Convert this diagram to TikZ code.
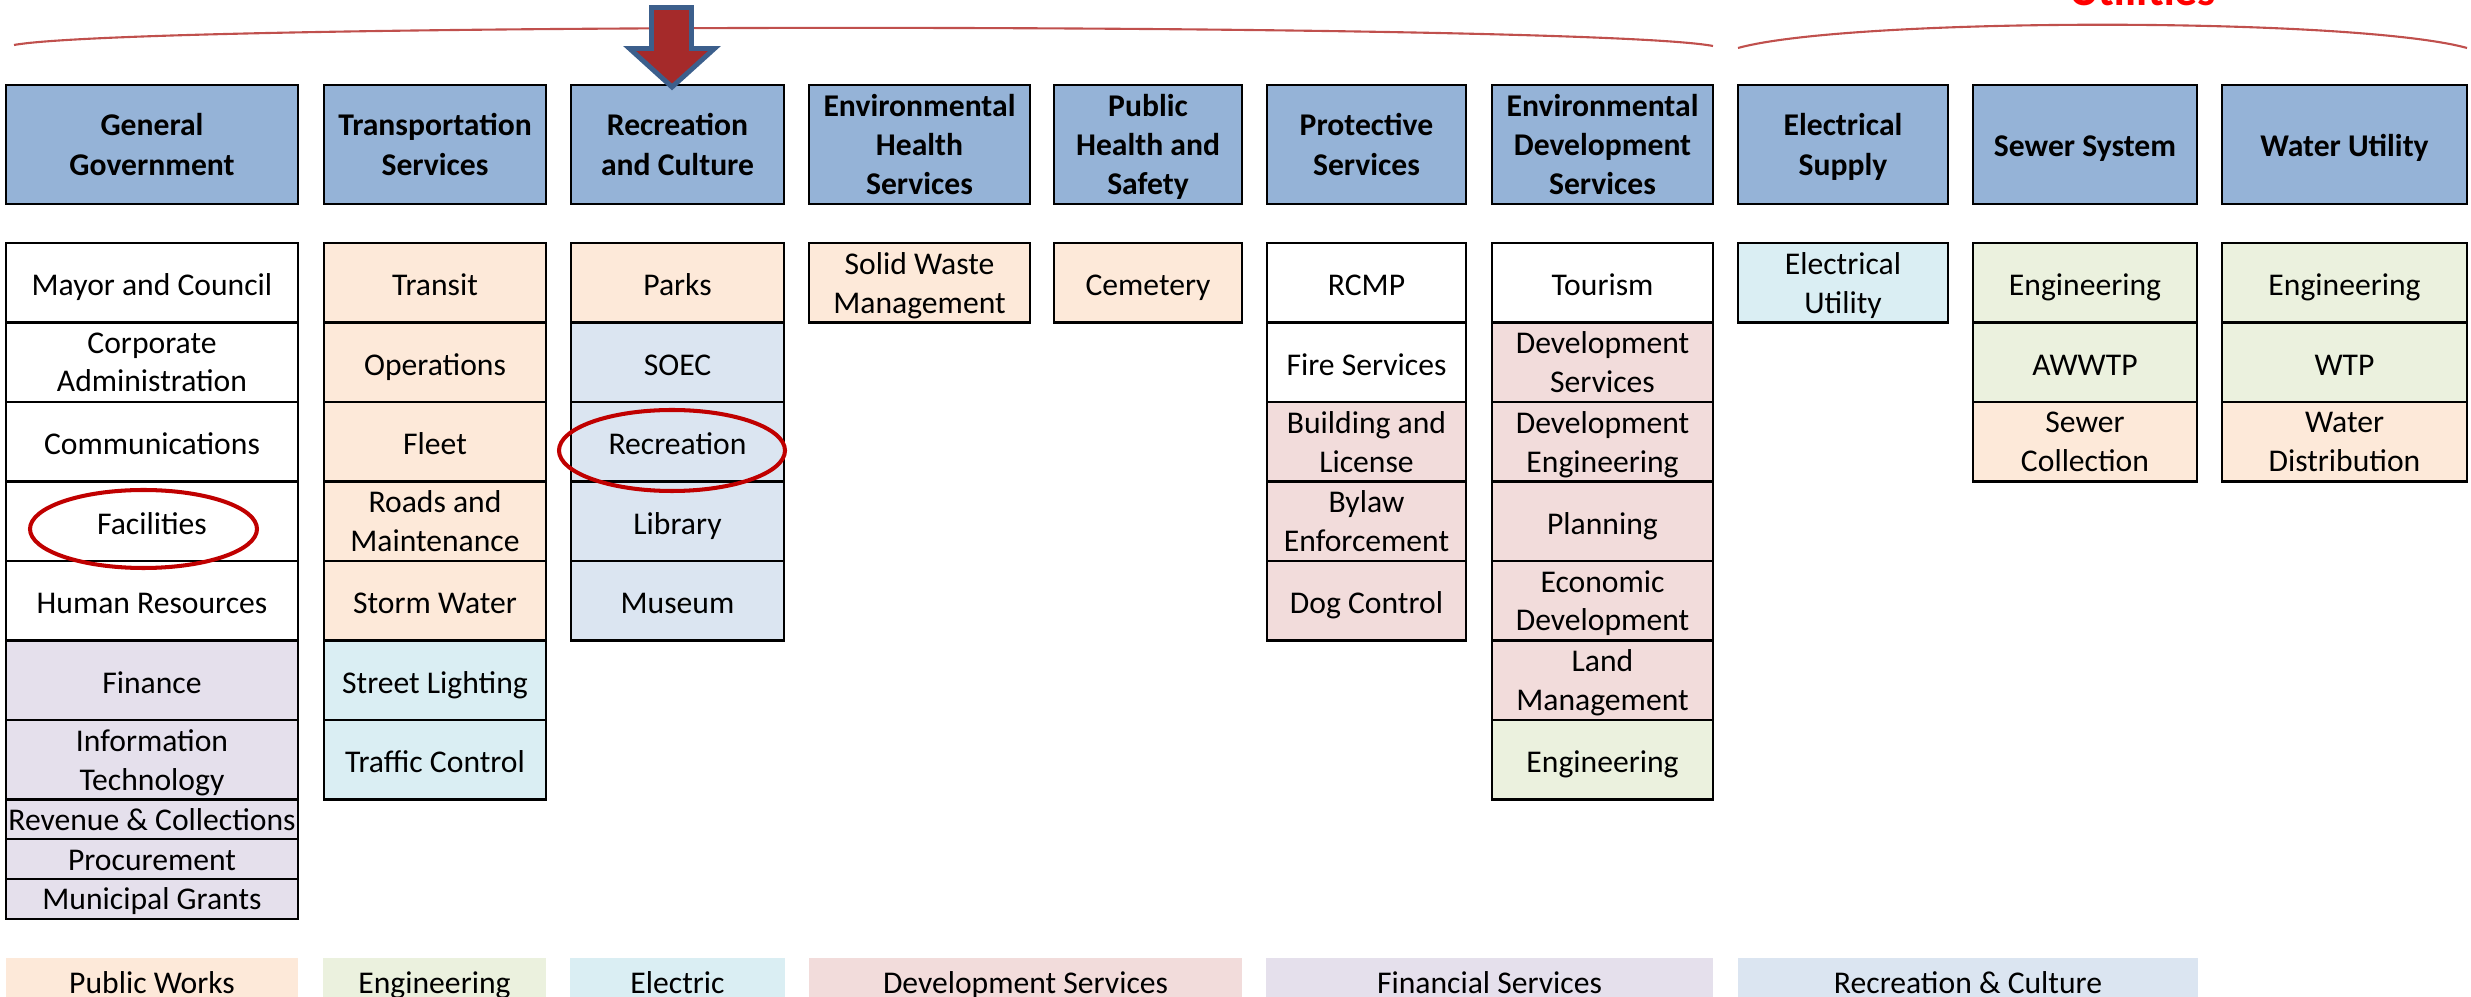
\documentclass[tikz,border=0pt]{standalone}
\usepackage{fontspec}
\setmainfont{Carlito}
\usetikzlibrary{positioning}
\definecolor{headblue}{HTML}{95B3D7}
\definecolor{pwcol}{HTML}{FDE9D9}
\definecolor{engcol}{HTML}{EBF1DE}
\definecolor{elcol}{HTML}{DAEEF3}
\definecolor{devcol}{HTML}{F2DCDB}
\definecolor{fincol}{HTML}{E5E0EC}
\definecolor{reccol}{HTML}{DBE5F1}
\definecolor{ringred}{HTML}{C00000}
\definecolor{bracered}{HTML}{C0504D}
\definecolor{arrowred}{HTML}{A52A2A}
\definecolor{arrowblue}{HTML}{3C5F8C}
\newcommand{\cellstrut}{\rule[-.8mm]{0pt}{4.2mm}}
\newcommand{\headstrut}{\rule[-.8mm]{0pt}{4.1mm}}
\newcommand{\thinstrut}{\rule[-.8mm]{0pt}{3.8mm}}
\tikzstyle{every node}=[font=\fontsize{9}{11}\selectfont]
\tikzstyle{box}=[draw,rectangle,inner xsep=0pt,inner ysep=0pt,align=center]
\tikzstyle{head}=[box,fill=headblue,line width=.7pt,minimum height=1.19cm,font=\bfseries\fontsize{9}{11.2}\selectfont,execute at begin node=\headstrut]
\tikzstyle{unit}=[box,fill=white,line width=.6pt,minimum height=.795cm,execute at begin node=\cellstrut]
\tikzstyle{half}=[box,fill=white,line width=.6pt,minimum height=.3975cm,execute at begin node=\thinstrut]
\tikzstyle{stack}=[text depth=0pt]
\tikzstyle{key}=[rectangle,inner sep=0pt,minimum height=.48cm,execute at begin node=\thinstrut]
\tikzstyle{pw}=[fill=pwcol]
\tikzstyle{eng}=[fill=engcol]
\tikzstyle{elec}=[fill=elcol]
\tikzstyle{dev}=[fill=devcol]
\tikzstyle{fin}=[fill=fincol]
\tikzstyle{rec}=[fill=reccol]
\tikzstyle{curly}=[draw=bracered,line width=.6pt]
\tikzstyle{ring}=[draw=ringred,line width=1.15pt]
\tikzstyle{bigarrow}=[draw=arrowblue,fill=arrowred,line width=1.4pt]

\begin{document}
\begin{tikzpicture}[node distance=.795cm]
    \useasboundingbox (0,0) rectangle (24.71,-9.97);
    \draw[curly] (.14,-.45) .. controls (1.4,-.22) and (15.87,-.22) .. (17.13,-.46);
    \draw[curly] (17.38,-.48) .. controls (18.5,-.17) and (23.55,-.17) .. (24.67,-.48);
    \node[font=\bfseries\fontsize{13}{15}\selectfont, text=red, anchor=base] (util) at (21.425,-.055) {Utilities};

    \begin{scope}[nodes={minimum width=2.92cm}]
    \node[head, stack] (gg) at (1.52,-1.445) {General\\Government};
    \node[unit, below of=gg, node distance=1.3825cm] (mayor) {Mayor and Council};
    \node[unit, stack, below of=mayor] (corp) {Corporate\\Administration};
    \node[unit, below of=corp] (comm) {Communications};
    \node[unit, below of=comm] (fac) {Facilities};
    \node[unit, below of=fac] (hr) {Human Resources};
    \node[unit, fin, below of=hr] (finance) {Finance};
    \node[unit, stack, fin, below of=finance] (it) {Information\\Technology};
    \node[half, fin, below of=it, node distance=.596cm] (rev) {Revenue \& Collections};
    \node[half, fin, below of=rev, node distance=.3975cm] (proc) {Procurement};
    \node[half, fin, below of=proc, node distance=.3975cm] (grants) {Municipal Grants};
    \end{scope}

    \begin{scope}[nodes={minimum width=2.22cm}]
    \node[head, stack] (ts) at (4.35,-1.445) {Transportation\\Services};
    \node[unit, pw, below of=ts, node distance=1.3825cm] (transit) {Transit};
    \node[unit, pw, below of=transit] (ops) {Operations};
    \node[unit, pw, below of=ops] (fleet) {Fleet};
    \node[unit, stack, pw, below of=fleet] (roads) {Roads and\\Maintenance};
    \node[unit, pw, below of=roads] (storm) {Storm Water};
    \node[unit, elec, below of=storm] (light) {Street Lighting};
    \node[unit, elec, below of=light] (traffic) {Traffic Control};
    \end{scope}

    \begin{scope}[nodes={minimum width=2.13cm}]
    \node[head, stack] (rc) at (6.775,-1.445) {Recreation\\and Culture};
    \node[unit, pw, below of=rc, node distance=1.3825cm] (parks) {Parks};
    \node[unit, rec, below of=parks] (soec) {SOEC};
    \node[unit, rec, below of=soec] (recr) {Recreation};
    \node[unit, rec, below of=recr] (lib) {Library};
    \node[unit, rec, below of=lib] (museum) {Museum};
    \end{scope}

    \begin{scope}[nodes={minimum width=2.21cm}]
    \node[head, stack] (ehs) at (9.195,-1.445) {Environmental\\Health\\Services};
    \node[unit, stack, pw, below of=ehs, node distance=1.3825cm] (waste) {Solid Waste\\Management};
    \end{scope}

    \begin{scope}[nodes={minimum width=1.88cm}]
    \node[head, stack] (phs) at (11.48,-1.445) {Public\\Health and\\Safety};
    \node[unit, pw, below of=phs, node distance=1.3825cm] (cem) {Cemetery};
    \end{scope}

    \begin{scope}[nodes={minimum width=1.99cm}]
    \node[head, stack] (ps) at (13.665,-1.445) {Protective\\Services};
    \node[unit, below of=ps, node distance=1.3825cm] (rcmp) {RCMP};
    \node[unit, below of=rcmp] (fire) {Fire Services};
    \node[unit, stack, dev, below of=fire] (bld) {Building and\\License};
    \node[unit, stack, dev, below of=bld] (bylaw) {Bylaw\\Enforcement};
    \node[unit, dev, below of=bylaw] (dog) {Dog Control};
    \end{scope}

    \begin{scope}[nodes={minimum width=2.21cm}]
    \node[head, stack] (eds) at (16.025,-1.445) {Environmental\\Development\\Services};
    \node[unit, below of=eds, node distance=1.3825cm] (tour) {Tourism};
    \node[unit, stack, dev, below of=tour] (devs) {Development\\Services};
    \node[unit, stack, dev, below of=devs] (deveng) {Development\\Engineering};
    \node[unit, dev, below of=deveng] (plan) {Planning};
    \node[unit, stack, dev, below of=plan] (econ) {Economic\\Development};
    \node[unit, stack, dev, below of=econ] (land) {Land\\Management};
    \node[unit, eng, below of=land] (engr) {Engineering};
    \end{scope}

    \begin{scope}[nodes={minimum width=2.10cm}]
    \node[head, stack] (es) at (18.43,-1.445) {Electrical\\Supply};
    \node[unit, stack, elec, below of=es, node distance=1.3825cm] (elut) {Electrical\\Utility};
    \end{scope}

    \begin{scope}[nodes={minimum width=2.24cm}]
    \node[head] (ss) at (20.85,-1.445) {Sewer System};
    \node[unit, eng, below of=ss, node distance=1.3825cm] (sengr) {Engineering};
    \node[unit, eng, below of=sengr] (awwtp) {AWWTP};
    \node[unit, stack, pw, below of=awwtp] (sewer) {Sewer\\Collection};
    \end{scope}

    \begin{scope}[nodes={minimum width=2.45cm}]
    \node[head] (wu) at (23.445,-1.445) {Water Utility};
    \node[unit, eng, below of=wu, node distance=1.3825cm] (wengr) {Engineering};
    \node[unit, eng, below of=wengr] (wtp) {WTP};
    \node[unit, stack, pw, below of=wtp] (water) {Water\\Distribution};
    \end{scope}

    \draw[bigarrow] (6.515,-.075) -- (6.915,-.075) -- (6.915,-.485) -- (7.145,-.485)
        -- (6.72,-.87) -- (6.295,-.485) -- (6.515,-.485) -- cycle;
    \draw[ring] ([shift={(-.085,-.0775)}]fac.center) ellipse [x radius=1.135, y radius=.39];
    \draw[ring] ([shift={(-.055,-.0875)}]recr.center) ellipse [x radius=1.13, y radius=.405];

    \node[key, pw, minimum width=2.92cm] (lpw) at (1.52,-9.82) {Public Works};
    \node[key, eng, minimum width=2.23cm] (leng) at (4.345,-9.82) {Engineering};
    \node[key, elec, minimum width=2.15cm] (lel) at (6.775,-9.82) {Electric};
    \node[key, dev, minimum width=4.33cm] (ldev) at (10.255,-9.82) {Development Services};
    \node[key, fin, minimum width=4.47cm] (lfin) at (14.895,-9.82) {Financial Services};
    \node[key, rec, minimum width=4.60cm] (lrec) at (19.68,-9.82) {Recreation \& Culture};
\end{tikzpicture}
\end{document}
